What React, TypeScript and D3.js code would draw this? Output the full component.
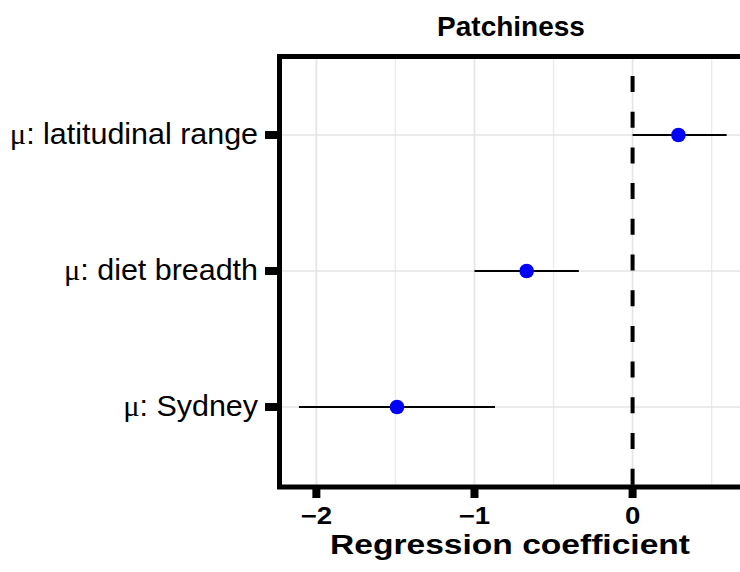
import React, { useEffect, useRef } from "react";
import * as d3 from "d3";

// model terms (top to bottom) and their estimates with 95% intervals
const terms = ["latitudinal range", "diet breadth", "Sydney"];
const estimates = [0.29, -0.67, -1.49];
const lower = [0.0, -1.0, -2.11];
const upper = [0.595, -0.34, -0.87];

const majorTicks = [-2, -1, 0];
const minorTicks = [-1.5, -0.5, 0.5];

const SANS = "'Liberation Sans', Arial, Helvetica, sans-serif";

const App = () => {
  const svgRef = useRef<SVGSVGElement>(null);

  useEffect(() => {
    const svg = d3.select(svgRef.current);
    svg.selectAll("*").remove();

    const width = 740;
    const height = 572;

    const x = d3.scaleLinear().domain([-2.23, 0.73]).range([280, 748]);
    const y = d3.scalePoint<string>().domain(terms).range([135, 407]);
    const top = 56.5;
    const bottom = 487;

    svg.append("rect").attr("width", width).attr("height", height).attr("fill", "#fff");

    // grid
    const grid = svg.append("g");
    grid
      .selectAll(".minor")
      .data(minorTicks)
      .join("line")
      .attr("x1", (d) => x(d))
      .attr("x2", (d) => x(d))
      .attr("y1", top)
      .attr("y2", bottom)
      .attr("stroke", "#eaeaea")
      .attr("stroke-width", 1.3);
    grid
      .selectAll(".major")
      .data(majorTicks)
      .join("line")
      .attr("x1", (d) => x(d))
      .attr("x2", (d) => x(d))
      .attr("y1", top)
      .attr("y2", bottom)
      .attr("stroke", "#e4e4e4")
      .attr("stroke-width", 1.7);
    grid
      .selectAll(".row")
      .data(terms)
      .join("line")
      .attr("x1", 280)
      .attr("x2", width)
      .attr("y1", (d) => y(d)!)
      .attr("y2", (d) => y(d)!)
      .attr("stroke", "#e4e4e4")
      .attr("stroke-width", 1.7);

    // zero reference line
    svg
      .append("line")
      .attr("x1", x(0))
      .attr("x2", x(0))
      .attr("y1", top)
      .attr("y2", bottom)
      .attr("stroke", "#000")
      .attr("stroke-width", 4)
      .attr("stroke-dasharray", "16 19.7")
      .attr("stroke-dashoffset", 16.2);

    // intervals
    svg
      .selectAll(".ci")
      .data(terms)
      .join("line")
      .attr("x1", (_, i) => x(lower[i]))
      .attr("x2", (_, i) => x(upper[i]))
      .attr("y1", (d) => y(d)!)
      .attr("y2", (d) => y(d)!)
      .attr("stroke", "#000")
      .attr("stroke-width", 2);

    // points
    svg
      .selectAll(".pt")
      .data(terms)
      .join("circle")
      .attr("cx", (_, i) => x(estimates[i]))
      .attr("cy", (d) => y(d)!)
      .attr("r", 7.3)
      .attr("fill", "#0000ff");

    // panel border (left, top, bottom; right side runs off the page)
    svg
      .append("path")
      .attr("d", `M${width + 10},${top} H279.5 V${bottom} H${width + 10}`)
      .attr("fill", "none")
      .attr("stroke", "#000")
      .attr("stroke-width", 5);

    // y ticks + labels
    svg
      .selectAll(".ytick")
      .data(terms)
      .join("line")
      .attr("x1", 265)
      .attr("x2", 279)
      .attr("y1", (d) => y(d)!)
      .attr("y2", (d) => y(d)!)
      .attr("stroke", "#000")
      .attr("stroke-width", 8);

    const ylab = svg
      .selectAll(".ylab")
      .data(terms)
      .join("text")
      .attr("transform", (d) => `translate(258,${y(d)! + 9}) scale(1.05,1)`)
      .attr("text-anchor", "end")
      .style("font-family", SANS)
      .style("font-size", "29px")
      .attr("fill", "#000");
    ylab
      .append("tspan")
      .style("font-family", "'Liberation Serif', 'Times New Roman', serif")
      .text("\u03bc");
    ylab.append("tspan").text((d) => `: ${d}`);

    // x ticks + labels
    svg
      .selectAll(".xtick")
      .data(majorTicks)
      .join("line")
      .attr("x1", (d) => x(d))
      .attr("x2", (d) => x(d))
      .attr("y1", bottom)
      .attr("y2", 498)
      .attr("stroke", "#000")
      .attr("stroke-width", 8);

    svg
      .selectAll(".xlab")
      .data(majorTicks)
      .join("text")
      .attr("transform", (d) => `translate(${x(d)},524) scale(1.2,1)`)
      .attr("text-anchor", "middle")
      .style("font-family", SANS)
      .style("font-size", "23px")
      .style("font-weight", "bold")
      .text((d) => (d < 0 ? `\u2212${Math.abs(d)}` : `${d}`));

    // axis title
    svg
      .append("text")
      .attr("x", 510)
      .attr("y", 554)
      .attr("text-anchor", "middle")
      .attr("textLength", 360)
      .attr("lengthAdjust", "spacingAndGlyphs")
      .style("font-family", SANS)
      .style("font-size", "27px")
      .style("font-weight", "bold")
      .text("Regression coefficient");

    // title
    svg
      .append("text")
      .attr("x", 511)
      .attr("y", 36)
      .attr("text-anchor", "middle")
      .style("font-family", SANS)
      .style("font-size", "28px")
      .style("font-weight", "bold")
      .text("Patchiness");
  }, []);

  return (
    <svg
      ref={svgRef}
      width={740}
      height={572}
      style={{ position: "absolute", left: 0, top: 0, display: "block" }}
    />
  );
};

export default App;
